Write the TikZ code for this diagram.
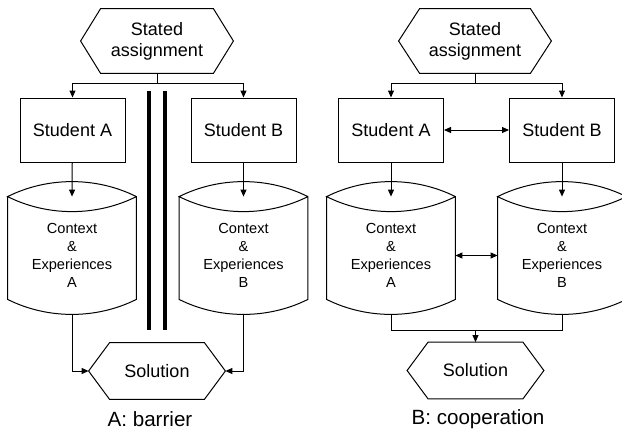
\documentclass[tikz,border=0pt]{standalone}
\usepackage{fontspec}
\setmainfont{Liberation Sans}
\usetikzlibrary{arrows.meta,calc}
\tikzstyle{hexa}=[rectangle,inner sep=0pt,minimum width=76pt,minimum height=32pt,
  align=center,font=\fontsize{9}{10.5}\selectfont]
\tikzstyle{solhexa}=[hexa,minimum width=68pt,minimum height=28pt]
\tikzstyle{stud}=[rectangle,draw=black,line width=0.5pt,inner sep=0pt,
  minimum width=52.5pt,minimum height=32pt,font=\fontsize{9}{10.5}\selectfont]
\tikzstyle{drum}=[rectangle,inner sep=0pt,minimum width=64pt,minimum height=43.5pt,
  align=center,font=\fontsize{7.3}{9}\selectfont]
\tikzstyle{arr}=[line width=0.5pt,-{Triangle[length=3.5pt,width=3pt]}]
\tikzstyle{arrs}=[line width=0.5pt,{Triangle[length=3.5pt,width=3pt]}-{Triangle[length=3.5pt,width=3pt]}]
\tikzstyle{wire}=[line width=0.5pt]
\tikzstyle{bar}=[line width=2pt]
% outline of a flat hexagon round a node
\newcommand{\hexoutline}[2]{%
  \draw[wire] (#1.west) -- ([xshift=#2]#1.north west) -- ([xshift=-#2]#1.north east)
    -- (#1.east) -- ([xshift=-#2]#1.south east) -- ([xshift=#2]#1.south west) -- cycle;}
% outline of a drum with lens-shaped top
\newcommand{\drumoutline}[1]{%
  \draw[wire] ([yshift=7.5pt]#1.north west) -- (#1.south west)
    .. controls +(40,20) and +(-40,20) .. (#1.south east)
    -- ([yshift=7.5pt]#1.north east)
    .. controls +(-40,-20) and +(40,-20) .. ([yshift=7.5pt]#1.north west)
    .. controls +(40,20) and +(-40,20) .. ([yshift=7.5pt]#1.north east);
  \coordinate (#1-top) at ([yshift=7.5pt]#1.north);
  \coordinate (#1-bot) at ([yshift=-7.5pt]#1.south);}

\begin{document}
\begin{tikzpicture}[x=0.5pt,y=-0.5pt]
    \useasboundingbox (0,0) rectangle (622,430);
    % A: barrier
    \node[style=hexa] (saA) at (157,41) {Stated\\assignment};
    \node[style=stud] (stuA) at (72.5,130) {Student A};
    \node[style=stud] (stuB) at (243.5,130) {Student B};
    \node[style=drum] (ctxA) at (72,255.5) {Context\\\&\\Experiences\\A};
    \node[style=drum] (ctxB) at (243.5,255.5) {Context\\\&\\Experiences\\B};
    \node[style=solhexa] (solA) at (157,371) {Solution};
    \node[font=\fontsize{10.3}{12}\selectfont] (capA) at (150,419) {A: barrier};
    \hexoutline{saA}{10pt}
    \hexoutline{solA}{10.5pt}
    \drumoutline{ctxA}
    \drumoutline{ctxB}
    \coordinate (splitA) at (157,83);
    \draw[wire] (saA) -- (splitA);
    \draw[arr] (splitA) -| (stuA.north);
    \draw[arr] (splitA) -| (stuB.north);
    \draw[arr] (stuA) -- (ctxA-top);
    \draw[arr] (stuB) -- (ctxB-top);
    \draw[arr] (ctxA-bot) |- (solA.west);
    \draw[arr] (ctxB-bot) |- (solA.east);
    \draw[bar] (148.5,91) -- (148.5,330);
    \draw[bar] (164.5,91) -- (164.5,330);
    % B: cooperation
    \node[style=hexa] (saB) at (475,41) {Stated\\assignment};
    \node[style=stud] (stuAB) at (391,130) {Student A};
    \node[style=stud] (stuBB) at (562,130) {Student B};
    \node[style=drum] (ctxAB) at (391,255.5) {Context\\\&\\Experiences\\A};
    \node[style=drum] (ctxBB) at (562,255.5) {Context\\\&\\Experiences\\B};
    \node[style=solhexa] (solB) at (475.5,370.5) {Solution};
    \node[font=\fontsize{10.3}{12}\selectfont] (capB) at (478,419) {B: cooperation};
    \hexoutline{saB}{10.5pt}
    \hexoutline{solB}{10.5pt}
    \drumoutline{ctxAB}
    \drumoutline{ctxBB}
    \coordinate (splitB) at (475,83);
    \coordinate (joinB) at (475.5,330);
    \draw[wire] (saB) -- (splitB);
    \draw[arr] (splitB) -| (stuAB.north);
    \draw[arr] (splitB) -| (stuBB.north);
    \draw[arrs] (stuAB) -- (stuBB);
    \draw[arr] (stuAB) -- (ctxAB-top);
    \draw[arr] (stuBB) -- (ctxBB-top);
    \draw[arrs] (ctxAB) -- (ctxBB);
    \draw[wire] (ctxAB-bot) |- (joinB);
    \draw[wire] (ctxBB-bot) |- (joinB);
    \draw[arr] (joinB) -- (solB);
\end{tikzpicture}
\end{document}
